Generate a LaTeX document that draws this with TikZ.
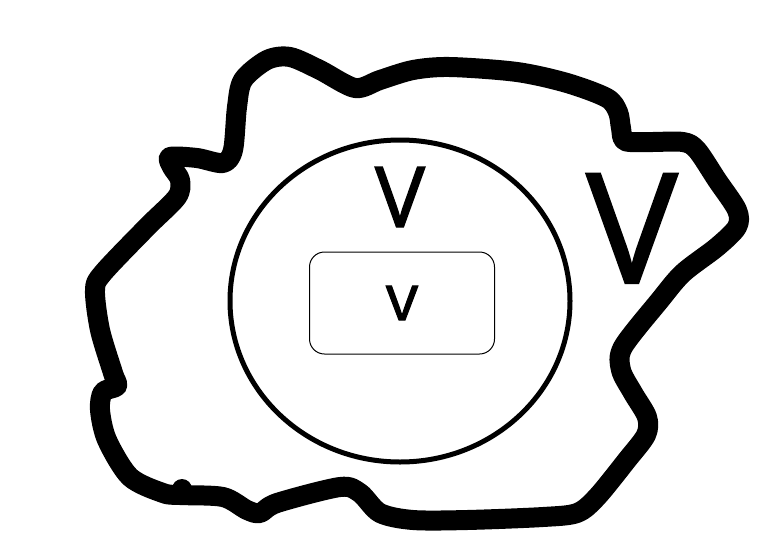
\documentclass[tikz,border=0pt]{standalone}
\usepackage{fontspec}
\setmainfont{Open Sans}[FakeBold=1.5]
\usetikzlibrary{shapes.geometric}
\newcommand\fsz[1]{\fontsize{#1}{#1}\selectfont}

\begin{document}
\begin{tikzpicture}[x=1pt, y=-1pt,
  every node/.style = {inner sep=0pt, outer sep=0pt},
  region/.style = {line width=20pt, line join=round, line cap=round},
  letter/.style = {anchor=base}]
  \useasboundingbox (0,0) rectangle (771,555);
  % outer region
  \draw[region] plot[smooth cycle, tension=0.5] coordinates {
    (170,157) (197,158) (223,163) (233,150) (237,107) (243,80) (267,60)
    (290,57) (320,70) (355,88) (380,80) (413,70) (450,67) (517,72)
    (567,83) (607,98) (618,112) (621,128) (625,141) (650,142) (683,142)
    (697,150) (717,180) (737,210) (737,227) (717,247) (683,273) (660,300)
    (623,347) (621,370) (633,393) (647,417) (646,435) (627,460) (597,497)
    (577,513) (543,517) (467,520) (413,520) (380,513) (360,493) (340,487)
    (277,503) (260,513) (247,510) (223,497) (180,495) (163,493) (130,477)
    (107,440) (100,410) (103,392) (117,386) (113,373) (100,330) (95,290)
    (103,273) (147,227) (177,197) (180,180) (172,167)};
  \fill (182,489) circle (10pt);
  % inner circle and box
  \node[draw, ellipse, line width=5pt, minimum width=340pt, minimum height=322pt]
    (inner) at (400,301) {};
  \node[draw, rounded corners=15pt, line width=1pt, minimum width=185pt,
    minimum height=102pt] (box) at (402,303) {\fsz{64}v};
  \node[letter] (Vin) at (400,227) {\fsz{84}V};
  \node[letter] (Vout) at (632,283) {\fsz{153}V};
\end{tikzpicture}
\end{document}
